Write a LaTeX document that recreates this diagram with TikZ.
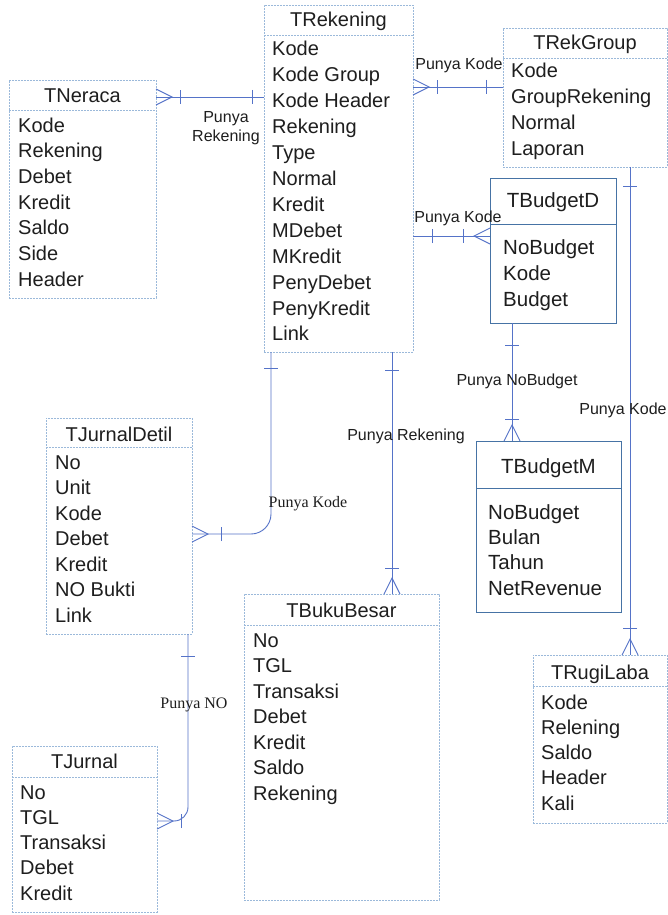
\documentclass[tikz,border=0pt]{standalone}
\usepackage{fontspec}
\setmainfont{Liberation Sans}
\newfontfamily\serifface{Liberation Serif}
\definecolor{linkblue}{RGB}{85,115,200}
\definecolor{boxblue}{RGB}{155,185,218}
\definecolor{budgetblue}{RGB}{70,115,165}
\definecolor{ink}{RGB}{30,30,30}

% entity box: name, style, left, top, right, bottom, rule y, title y, title
\newcommand\entity[9]{%
  \node[#2, minimum width={#5pt-#3pt}, minimum height={#6pt-#4pt}] (#1) at ({(#3+#5)/2},{(#4+#6)/2}) {};
  \draw[#2] (#3,#7) -- (#5,#7);
  \node[title] (#1-title) at ({(#3+#5)/2},{#8+7}) {#9};
}
% attribute rows: name, x, first row y, row step, list
\newcommand\fieldlist[5]{%
  \foreach \f [count=\i from 1] in {#5}
    \node[field] (#1-\i) at (#2, {#3+7+(\i-1)*#4}) {\f};
}
% many-end (crow's foot) at an edge point, pointing away from the box
\newcommand\crowfoot[2]{%
  \draw[conn] ([shift={(#2+90:8)}]#1) -- ([shift={(#2:16)}]#1) -- ([shift={(#2-90:8)}]#1);
}
% cross bar at a distance from an edge point
\newcommand\crossbar[3]{%
  \draw[conn] ([shift={(#2:#3)}]#1) ++(#2+90:7) -- ++(#2-90:14);
}

\begin{document}
\begin{tikzpicture}[x=1pt,y=-1pt,
  conn/.style={draw=linkblue, line width=0.9pt},
  box/.style={draw=boxblue, line width=0.7pt, dash pattern=on 2pt off 1pt, inner sep=0pt, outer sep=0pt},
  budgetbox/.style={draw=budgetblue, line width=1pt, inner sep=0pt, outer sep=0pt},
  title/.style={anchor=base, inner sep=0pt, font=\fontsize{20}{22}\selectfont, text=ink},
  field/.style={anchor=base west, inner sep=0pt, font=\fontsize{20}{22}\selectfont, text=ink},
  lbl/.style={inner sep=0pt, align=center, font=\fontsize{16}{19}\selectfont, text=ink},
  slbl/.style={inner sep=0pt, font=\serifface\fontsize{16}{19}\selectfont, text=ink}]

\fill[white] (0,0) rectangle (668,915);
\useasboundingbox (0,0) rectangle (668,915);

% tables
\entity{rek}{box}{264}{5}{413}{352}{35}{20}{TRekening}
\fieldlist{rek}{272}{49}{25.9}{Kode, Kode Group, Kode Header, Rekening, Type, Normal, Kredit, MDebet, MKredit, PenyDebet, PenyKredit, Link}

\entity{grp}{box}{503}{28}{667}{167}{58}{43}{TRekGroup}
\fieldlist{grp}{511}{71}{25.7}{Kode, GroupRekening, Normal, Laporan}

\entity{ner}{box}{9}{80}{156}{298}{110}{96}{TNeraca}
\fieldlist{ner}{18}{125}{25.7}{Kode, Rekening, Debet, Kredit, Saldo, Side, Header}

\begin{scope}[title/.append style={font=\fontsize{20.5}{24}\selectfont},
              field/.append style={font=\fontsize{20.5}{24}\selectfont}]
\entity{bd}{budgetbox}{490}{178}{616}{323}{224}{200}{TBudgetD}
\fieldlist{bd}{503}{247}{26}{NoBudget, Kode, Budget}

\entity{bm}{budgetbox}{476}{441}{621}{612}{488}{466}{TBudgetM}
\fieldlist{bm}{488}{512}{25.4}{NoBudget, Bulan, Tahun, NetRevenue}
\end{scope}

\entity{jd}{box}{46}{418}{192}{634}{447}{434}{TJurnalDetil}
\fieldlist{jd}{55}{462}{25.5}{No, Unit, Kode, Debet, Kredit, NO Bukti, Link}

\entity{bb}{box}{244}{594}{439}{900}{625}{610}{TBukuBesar}
\fieldlist{bb}{253}{640}{25.5}{No, TGL, Transaksi, Debet, Kredit, Saldo, Rekening}

\entity{rl}{box}{533}{655}{667}{823}{686}{672}{TRugiLaba}
\fieldlist{rl}{541}{702}{25.3}{Kode, Relening, Saldo, Header, Kali}

\entity{tj}{box}{12}{746}{157}{912}{777}{761}{TJurnal}
\fieldlist{tj}{20}{792}{25.3}{No, TGL, Transaksi, Debet, Kredit}

% TNeraca -- TRekening
\path (ner.north east) ++(0,17) coordinate (e1a);
\path (rek.west |- e1a) coordinate (e1b);
\draw[conn] (e1a) -- (e1b);
\crowfoot{e1a}{0}
\crossbar{e1a}{0}{24}
\crossbar{e1b}{180}{12}
\node[lbl] (l1) at (226,128) {Punya\\Rekening};

% TRekening -- TRekGroup
\path (rek.north east) ++(0,82) coordinate (e2a);
\path (grp.west |- e2a) coordinate (e2b);
\draw[conn] (e2a) -- (e2b);
\crowfoot{e2a}{0}
\crossbar{e2a}{0}{24}
\crossbar{e2b}{180}{17}
\node[lbl] (l2) at (459,65) {Punya Kode};

% TRekening -- TBudgetD
\path (rek.north east) ++(0,231) coordinate (e3a);
\path (bd.west |- e3a) coordinate (e3b);
\draw[conn] (e3a) -- (e3b);
\crossbar{e3a}{0}{19}
\crowfoot{e3b}{180}
\crossbar{e3b}{180}{27}
\node[lbl] (l3) at (458,218) {Punya Kode};

% TBudgetD -- TBudgetM
\path (bd.south west) ++(22,0) coordinate (e4a);
\path (e4a |- bm.north) coordinate (e4b);
\draw[conn] (e4a) -- (e4b);
\crossbar{e4a}{90}{22}
\crowfoot{e4b}{270}
\crossbar{e4b}{270}{22}
\node[lbl] (l4) at (517,381) {Punya NoBudget};

% TRekGroup -- TRugiLaba
\path (grp.south west) ++(127,0) coordinate (e5a);
\path (e5a |- rl.north) coordinate (e5b);
\draw[conn] (e5a) -- (e5b);
\crossbar{e5a}{90}{19}
\crowfoot{e5b}{270}
\crossbar{e5b}{270}{27}
\node[lbl] (l5) at (623,410) {Punya Kode};

% TRekening -- TBukuBesar
\path (rek.south west) ++(128,0) coordinate (e6a);
\path (e6a |- bb.north) coordinate (e6b);
\draw[conn] (e6a) -- (e6b);
\crossbar{e6a}{90}{18}
\crowfoot{e6b}{270}
\crossbar{e6b}{270}{26}
\node[lbl] (l6) at (406,436) {Punya Rekening};

% TRekening -- TJurnalDetil
\path (rek.south west) ++(7,0) coordinate (e7a);
\path (jd.north east) ++(0,116) coordinate (e7b);
\draw[conn, rounded corners=20pt] (e7a) |- (e7b);
\crossbar{e7a}{90}{16}
\crowfoot{e7b}{0}
\crossbar{e7b}{0}{29}
\node[slbl] (l7) at (308,504) {Punya Kode};

% TJurnalDetil -- TJurnal
\path (jd.south east) ++(-4,0) coordinate (e8a);
\path (tj.north east) ++(0,75) coordinate (e8b);
\draw[conn, rounded corners=14pt] (e8a) |- (e8b);
\crossbar{e8a}{90}{22}
\crowfoot{e8b}{0}
\crossbar{e8b}{0}{24}
\node[slbl] (l8) at (194,705) {Punya NO};

\end{tikzpicture}
\end{document}
